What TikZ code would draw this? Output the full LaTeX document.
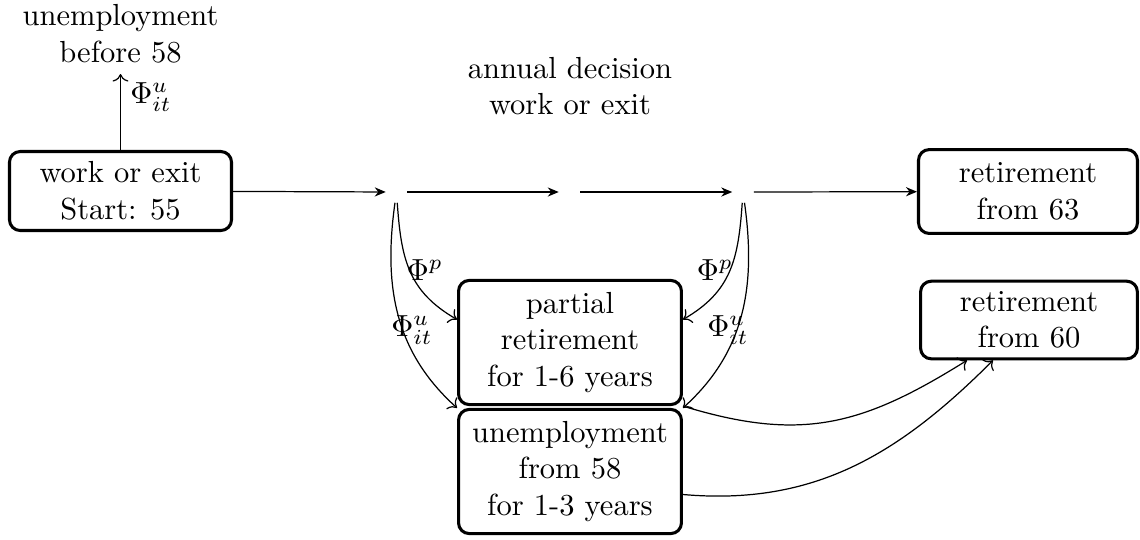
\documentclass[tikz,border=0pt]{standalone}
\usetikzlibrary{arrows.meta,calc}
\begin{document}
\begin{tikzpicture}[x=0.3279pt,y=-0.3279pt,
  box/.style={draw, rounded corners=3.5pt, line width=1pt, align=center},
  plain/.style={align=center},
  lbl/.style={inner sep=0pt},
  dot/.style={inner sep=3.33pt},
  harr/.style={-{Stealth[length=3.6pt,width=3pt]}},
  carr/.style={->}]
\path[use as bounding box] (0,0) rectangle (1140,539);

\node[box, minimum width=72.8pt, minimum height=25.9pt] (work) at (120.5,191) {work or exit\\Start: 55};
\node[plain] (ub58) at (120.5,34) {unemployment\\before 58};
\node[plain] (ad) at (570,86) {annual decision\\work or exit};

\node[dot] (c1) at (396.5,192) {};
\node[dot] (c2) at (569.5,192) {};
\node[dot] (c3) at (743,192) {};

\node[box, minimum width=71.8pt, minimum height=27.5pt] (ret63) at (1028,191.5) {retirement\\from 63};
\node[box, minimum width=71.1pt, minimum height=25.2pt] (ret60) at (1029,320) {retirement\\from 60};
\node[box, minimum width=73.1pt, minimum height=40.7pt] (partial) at (570,342.5) {partial\\retirement\\for 1-6 years};
\node[box, minimum width=73.1pt, minimum height=40.7pt] (unemp) at (570,471.5) {unemployment\\from 58\\for 1-3 years};

\draw[carr] (work) -- (ub58);
\draw[harr] (work) -- (c1);
\draw[harr] (c1) -- (c2);
\draw[harr] (c2) -- (c3);
\draw[harr] (c3) -- (ret63);

\draw[carr] (c1) to[out=-86,in=150,looseness=1.1] ($(partial.west)+(0,-23)$);
\draw[carr] (c1) to[out=-98,in=138] (unemp.north west);
\draw[carr] (c3) to[out=-94,in=30,looseness=1.1] ($(partial.east)+(0,-23)$);
\draw[carr] (c3) to[out=-82,in=42] (unemp.north east);

\node[lbl] (lp1) at (425,270) {$\Phi^p$};
\node[lbl] (lu1) at (412,330) {$\Phi^u_{it}$};
\node[lbl] (lp3) at (715,270) {$\Phi^p$};
\node[lbl] (lu3) at (728,330) {$\Phi^u_{it}$};
\node[lbl] (lu0) at (151,97) {$\Phi^u_{it}$};

\draw[carr] (partial.south east) to[out=-17,in=-148,looseness=1.1] ($(ret60.south)+(-62,0)$);
\draw[carr] ($(unemp.east)+(0,23)$) to[out=-5,in=-135] ($(ret60.south)+(-36,0)$);
\end{tikzpicture}
\end{document}
